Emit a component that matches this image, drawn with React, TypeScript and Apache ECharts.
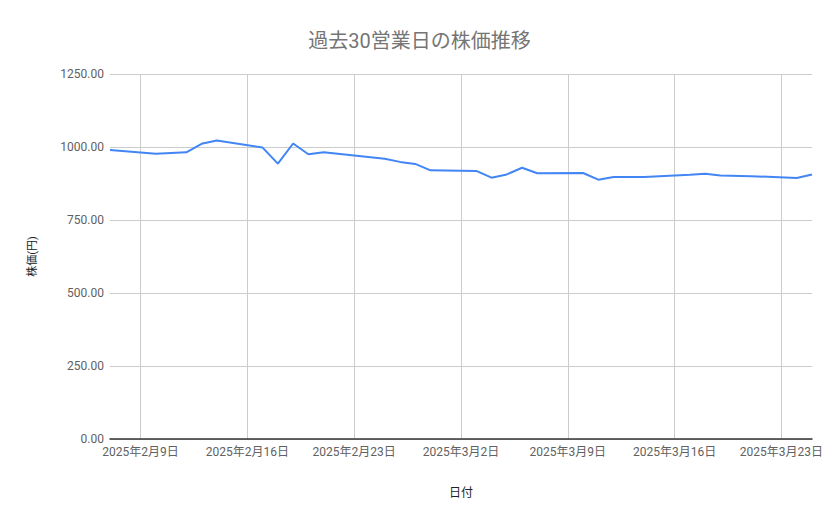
import { useEffect, useRef } from 'react';
import * as echarts from 'echarts';

// 営業日と終値
const tradeDates = [
  '2025-02-07', '2025-02-10', '2025-02-12', '2025-02-13', '2025-02-14',
  '2025-02-17', '2025-02-18', '2025-02-19', '2025-02-20', '2025-02-21',
  '2025-02-25', '2025-02-26', '2025-02-27', '2025-02-28',
  '2025-03-03', '2025-03-04', '2025-03-05', '2025-03-06', '2025-03-07',
  '2025-03-10', '2025-03-11', '2025-03-12', '2025-03-13', '2025-03-14',
  '2025-03-17', '2025-03-18', '2025-03-19', '2025-03-21',
  '2025-03-24', '2025-03-25',
];

const closePrices = [
  990, 977, 982, 1011, 1022,
  998, 943, 1012, 975, 982,
  960, 949, 942, 920,
  918, 895, 906, 929, 910,
  911, 888, 897, 897, 897,
  905, 908, 902, 900,
  894, 906,
];

const yTicks = [0, 250, 500, 750, 1000, 1250];

const FONT = 'Roboto, "Noto Sans CJK JP", sans-serif';

function dayList(from: string, to: string) {
  const out: string[] = [];
  const d = new Date(from + 'T00:00:00Z');
  const end = new Date(to + 'T00:00:00Z');
  while (d <= end) {
    out.push(d.toISOString().slice(0, 10));
    d.setUTCDate(d.getUTCDate() + 1);
  }
  return out;
}

const isSunday = (v: string) => new Date(v + 'T00:00:00Z').getUTCDay() === 0;

function fmtDate(v: string) {
  const [y, m, d] = v.split('-').map(Number);
  return `${y}年${m}月${d}日`;
}

export default function App() {
  const chartRef = useRef<HTMLDivElement>(null);

  useEffect(() => {
    if (!chartRef.current) return;
    const chart = echarts.init(chartRef.current, undefined, { renderer: 'svg' });
    const days = dayList(tradeDates[0], tradeDates[tradeDates.length - 1]);

    chart.setOption({
      animation: false,
      backgroundColor: '#ffffff',
      textStyle: { fontFamily: FONT },
      title: {
        text: '過去30営業日の株価推移',
        left: 'center',
        top: 26,
        textStyle: {
          fontFamily: FONT,
          fontSize: 20,
          fontWeight: 'normal',
          color: '#757575',
        },
      },
      grid: { left: 110, right: 27, top: 74, bottom: 80 },
      xAxis: {
        type: 'category',
        data: days,
        boundaryGap: false,
        name: '日付',
        nameLocation: 'middle',
        nameGap: 48,
        nameTextStyle: { fontFamily: FONT, fontSize: 12, color: '#222222' },
        axisLine: { lineStyle: { color: '#333333', width: 1.5 } },
        axisTick: { show: false },
        axisLabel: {
          interval: (_i: number, v: string) => isSunday(v),
          formatter: fmtDate,
          color: '#616161',
          fontSize: 12,
          margin: 7,
        },
        splitLine: {
          show: true,
          interval: (_i: number, v: string) => isSunday(v),
          lineStyle: { color: '#cccccc', width: 1 },
        },
      },
      yAxis: {
        type: 'value',
        min: yTicks[0],
        max: yTicks[yTicks.length - 1],
        interval: 250,
        name: '株価(円)',
        nameLocation: 'middle',
        nameGap: 72,
        nameTextStyle: { fontFamily: FONT, fontSize: 11, color: '#222222' },
        axisLine: { show: false },
        axisTick: { show: false },
        axisLabel: {
          formatter: (v: number) => v.toFixed(2),
          color: '#616161',
          fontSize: 12,
          margin: 6,
        },
        splitLine: { lineStyle: { color: '#cccccc', width: 1 } },
      },
      series: [
        {
          type: 'line',
          data: tradeDates.map((d, i) => [d, closePrices[i]]),
          showSymbol: false,
          lineStyle: { color: '#4285f4', width: 2 },
          itemStyle: { color: '#4285f4' },
        },
      ],
    });

    return () => {
      chart.dispose();
    };
  }, []);

  return (
    <div
      ref={chartRef}
      style={{ width: 839, height: 519, position: 'absolute', left: 0, top: 0 }}
    />
  );
}
